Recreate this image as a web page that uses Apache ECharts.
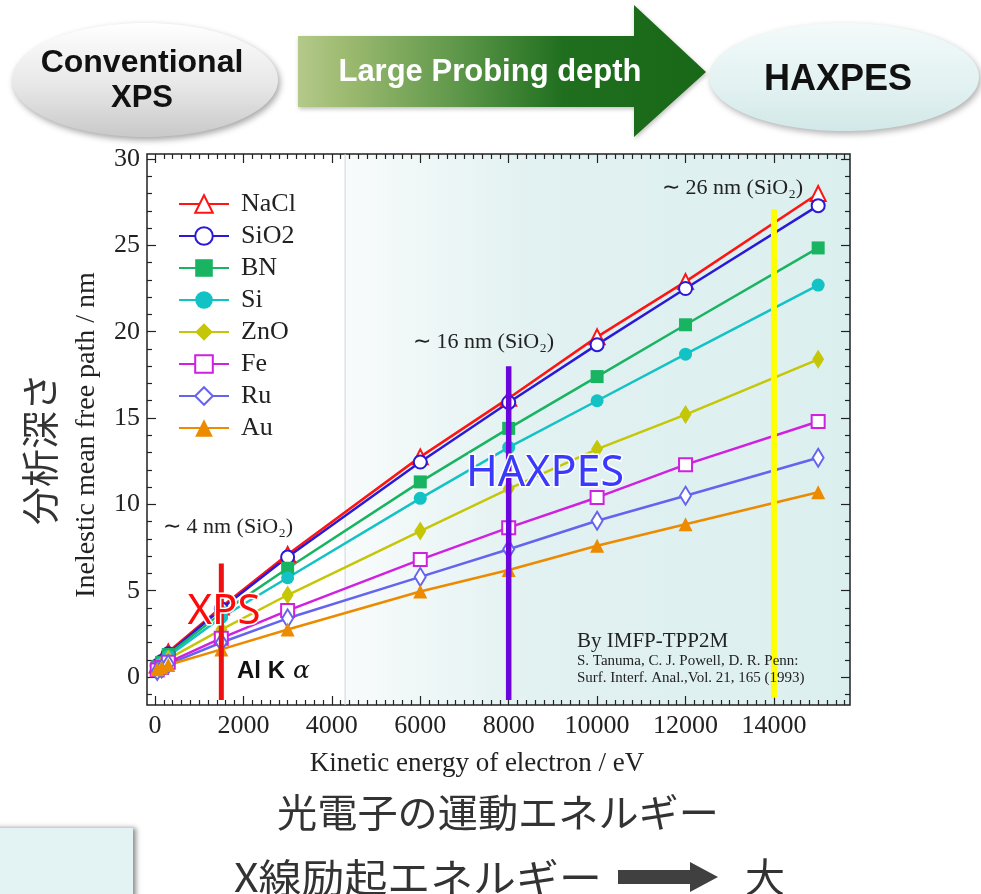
<!DOCTYPE html>
<html>
<head>
<meta charset="utf-8">
<script src="https://cdn.jsdelivr.net/npm/echarts@6/dist/echarts.min.js"></script>
<style>
html,body{margin:0;padding:0;background:#fff;}
#chart{width:981px;height:894px;}
</style>
</head>
<body>
<div id="chart"></div>
<script>
// ---- data ----
const energies = [50, 150, 300, 1500, 3000, 6000, 8000, 10000, 12000, 15000];
const seriesNames = ['NaCl', 'SiO2', 'BN', 'Si', 'ZnO', 'Fe', 'Ru', 'Au'];
const NaCl = [0.7, 0.95, 1.45, 4.05, 7.1, 12.75, 16.15, 19.7, 22.9, 28.0];
const SiO2 = [0.65, 0.9, 1.35, 3.95, 6.95, 12.45, 15.9, 19.25, 22.5, 27.3];
const BN   = [0.6, 0.85, 1.3, 3.7, 6.3, 11.3, 14.4, 17.4, 20.4, 24.85];
const Si   = [0.55, 0.8, 1.2, 3.45, 5.75, 10.35, 13.3, 16.0, 18.7, 22.7];
const ZnO  = [0.5, 0.7, 1.05, 2.75, 4.75, 8.45, 10.9, 13.2, 15.2, 18.4];
const Fe   = [0.4, 0.55, 0.85, 2.25, 3.85, 6.8, 8.65, 10.4, 12.3, 14.8];
const Ru   = [0.35, 0.5, 0.75, 2.0, 3.4, 5.8, 7.4, 9.05, 10.5, 12.7];
const Au   = [0.45, 0.55, 0.7, 1.6, 2.75, 4.95, 6.2, 7.6, 8.85, 10.7];
const xTickLabels = [0, 2000, 4000, 6000, 8000, 10000, 12000, 14000];
const yTickLabels = [0, 5, 10, 15, 20, 25, 30];
// marker bars: [energy, bottom, top]
const xpsBar = [1500, -1.33, 6.58];
const haxpesBar = [8000, -1.33, 18.0];
const highBar = [14000, -1.2, 27.1];
const shadeEdge = 4300;

const X_MIN = -181, X_MAX = 15720, Y_MIN = -1.62, Y_MAX = 30.29;

const values = {NaCl, SiO2, BN, Si, ZnO, Fe, Ru, Au};
const styles = {
  NaCl: {color: '#ff1414', symbol: 'emptyTriangle', size: 15},
  SiO2: {color: '#2a1ad8', symbol: 'emptyCircle', size: 13},
  BN:   {color: '#18b462', symbol: 'rect', size: 13},
  Si:   {color: '#12c2c4', symbol: 'circle', size: 13},
  ZnO:  {color: '#c6c608', symbol: 'diamond', size: [12, 19]},
  Fe:   {color: '#d020e0', symbol: 'emptyRect', size: 13},
  Ru:   {color: '#6464ee', symbol: 'emptyDiamond', size: [11, 18]},
  Au:   {color: '#ec8a00', symbol: 'triangle', size: 14}
};

const serif = 'Liberation Serif';
const sans = 'Liberation Sans';

const minorX = []; for (let v = 0; v <= 15600; v += 200) if (v % 2000) minorX.push(v);
const minorY = []; for (let v = -1; v <= 30; v += 1) if (v % 5) minorY.push(v);

function mkX(pos, ticks, len, labels) {
  return {
    type: 'value', min: X_MIN, max: X_MAX, position: pos,
    axisLine: {show: false, onZero: false}, splitLine: {show: false},
    axisTick: {show: true, inside: true, length: len, customValues: ticks, lineStyle: {color: '#222', width: 1.2}},
    axisLabel: labels ? {show: true, customValues: xTickLabels, formatter: v => String(v), margin: 8, fontFamily: serif, fontSize: 26, color: '#222'} : {show: false}
  };
}
function mkY(pos, ticks, len, labels) {
  return {
    type: 'value', min: Y_MIN, max: Y_MAX, position: pos,
    axisLine: {show: false, onZero: false}, splitLine: {show: false},
    axisTick: {show: true, inside: true, length: len, customValues: ticks, lineStyle: {color: '#222', width: 1.2}},
    axisLabel: labels ? {show: true, customValues: yTickLabels, formatter: v => String(v), margin: 7, fontFamily: serif, fontSize: 26, color: '#222'} : {show: false}
  };
}

const series = seriesNames.map(n => ({
  name: n, type: 'line', xAxisIndex: 0, yAxisIndex: 0,
  data: energies.map((e, i) => [e, values[n][i]]),
  symbol: styles[n].symbol, symbolSize: styles[n].size,
  lineStyle: {color: styles[n].color, width: 2.5},
  itemStyle: {color: styles[n].color, borderWidth: 1.5},
  z: 3
}));

function barSeries(b, color, w) {
  return {
    type: 'line', xAxisIndex: 0, yAxisIndex: 0, symbol: 'none', silent: true,
    data: [[b[0], b[1]], [b[0], b[2]]],
    lineStyle: {color: color, width: w}, z: 5
  };
}
series.push({
  type: 'line', xAxisIndex: 0, yAxisIndex: 0, symbol: 'none', silent: true,
  data: [[shadeEdge, Y_MIN], [shadeEdge, Y_MAX]],
  lineStyle: {color: '#cfd6d6', width: 1}, z: 1
});
series.push(barSeries(xpsBar, '#ee1111', 5));
series.push(barSeries(haxpesBar, '#6a06dc', 5.5));
series.push(barSeries(highBar, '#ffff00', 6));

const G = echarts.graphic;

const graphics = [
  // header: conventional XPS ellipse
  {type: 'ellipse', shape: {cx: 145, cy: 80, rx: 133, ry: 57},
   style: {fill: new G.LinearGradient(0, 0, 0, 1, [{offset: 0, color: '#ffffff'}, {offset: 0.55, color: '#e7e7e7'}, {offset: 1, color: '#c9c9c9'}]),
           shadowBlur: 6, shadowColor: 'rgba(0,0,0,0.35)', shadowOffsetX: 2, shadowOffsetY: 3}},
  {type: 'text', x: 142, y: 63, style: {text: 'Conventional', fontFamily: sans, fontWeight: 'bold', fontSize: 32, fill: '#111', align: 'center', verticalAlign: 'middle'}},
  {type: 'text', x: 142, y: 98, style: {text: 'XPS', fontFamily: sans, fontWeight: 'bold', fontSize: 31, fill: '#111', align: 'center', verticalAlign: 'middle'}},
  // arrow
  {type: 'polygon', shape: {points: [[298, 36], [634, 36], [634, 5], [706, 72], [634, 137], [634, 107], [298, 107]]},
   style: {fill: new G.LinearGradient(0, 0, 1, 0, [{offset: 0, color: '#b4c98a'}, {offset: 0.12, color: '#9cba70'}, {offset: 0.4, color: '#5c9648'}, {offset: 0.65, color: '#1f6f1f'}, {offset: 1, color: '#186818'}]),
           shadowBlur: 4, shadowColor: 'rgba(0,0,0,0.25)', shadowOffsetX: 1, shadowOffsetY: 2}},
  {type: 'text', x: 490, y: 72, style: {text: 'Large Probing depth', fontFamily: sans, fontWeight: 'bold', fontSize: 31, fill: '#ffffff', align: 'center', verticalAlign: 'middle'}},
  // HAXPES ellipse
  {type: 'ellipse', shape: {cx: 844, cy: 77, rx: 135, ry: 54},
   style: {fill: new G.LinearGradient(0, 0, 0, 1, [{offset: 0, color: '#f3fafa'}, {offset: 0.6, color: '#e2f1f1'}, {offset: 1, color: '#d2e8e8'}]),
           shadowBlur: 6, shadowColor: 'rgba(0,0,0,0.3)', shadowOffsetX: 2, shadowOffsetY: 3}},
  {type: 'text', x: 838, y: 80, style: {text: 'HAXPES', fontFamily: sans, fontWeight: 'bold', fontSize: 36, fill: '#111', align: 'center', verticalAlign: 'middle'}},
  // bottom-left box
  {type: 'rect', shape: {x: -10, y: 828, width: 143, height: 80},
   style: {fill: '#e3f2f2', shadowBlur: 5, shadowColor: 'rgba(0,0,0,0.45)', shadowOffsetX: 3, shadowOffsetY: 0}},
  // bottom texts
  {type: 'text', x: 498, y: 812, scaleX: 1.03, style: {text: '光電子の運動エネルギー', fontFamily: 'Noto Sans CJK JP', fontSize: 39, fill: '#333', align: 'center', verticalAlign: 'middle'}},
  {type: 'text', x: 234, y: 877, scaleX: 1.1, style: {text: 'X線励起エネルギー', fontFamily: 'Noto Sans CJK JP', fontSize: 39, fill: '#333', align: 'left', verticalAlign: 'middle'}},
  {type: 'polygon', shape: {points: [[618, 870], [690, 870], [690, 862], [718, 877], [690, 892], [690, 884], [618, 884]]}, style: {fill: '#404040'}},
  {type: 'text', x: 765, y: 877, style: {text: '大', fontFamily: 'Noto Sans CJK JP', fontSize: 40, fill: '#333', align: 'center', verticalAlign: 'middle'}},
  // y titles
  {type: 'text', x: 40, y: 449, rotation: Math.PI / 2, style: {text: '分析深さ', fontFamily: 'Noto Sans CJK JP', fontSize: 38, fill: '#333', align: 'center', verticalAlign: 'middle'}},
  {type: 'text', x: 87, y: 435, rotation: Math.PI / 2, style: {text: 'Inelestic mean free path / nm', fontFamily: serif, fontSize: 28, fill: '#222', align: 'center', verticalAlign: 'middle'}},
  {type: 'text', x: 477, y: 764, style: {text: 'Kinetic energy of electron / eV', fontFamily: serif, fontSize: 27, fill: '#222', align: 'center', verticalAlign: 'middle'}},
  // annotations
  {type: 'text', x: 163, y: 527, z: 20, style: {text: '∼ 4 nm (SiO₂)', fontFamily: serif, fontSize: 22, fill: '#222', align: 'left', verticalAlign: 'middle'}},
  {type: 'text', x: 413, y: 342, z: 20, style: {text: '∼ 16 nm (SiO₂)', fontFamily: serif, fontSize: 22, fill: '#222', align: 'left', verticalAlign: 'middle'}},
  {type: 'text', x: 662, y: 188, z: 20, style: {text: '∼ 26 nm (SiO₂)', fontFamily: serif, fontSize: 22, fill: '#222', align: 'left', verticalAlign: 'middle'}},
  {type: 'text', x: 224, y: 612, z: 20, style: {text: 'XPS', fontFamily: 'Noto Sans', fontSize: 42, fill: '#ff0a0a', stroke: '#ffffff', lineWidth: 3, align: 'center', verticalAlign: 'middle', shadowColor: 'rgba(255,255,255,0.9)', shadowBlur: 6}},
  {type: 'text', x: 545, y: 474, z: 20, style: {text: 'HAXPES', fontFamily: 'Noto Sans', fontSize: 43, fill: '#3a3aff', stroke: '#ffffff', lineWidth: 3, align: 'center', verticalAlign: 'middle', shadowColor: 'rgba(255,255,255,0.9)', shadowBlur: 6}},
  {type: 'text', x: 237, y: 671, z: 20, style: {text: '{b|Al K}{g| α}', align: 'left', verticalAlign: 'middle',
     rich: {b: {fontFamily: sans, fontWeight: 'bold', fontSize: 24, fill: '#111'}, g: {fontFamily: 'DejaVu Serif', fontStyle: 'italic', fontSize: 25, fill: '#111'}}}},
  {type: 'text', x: 577, y: 641, z: 20, style: {text: 'By IMFP-TPP2M', fontFamily: serif, fontSize: 21, fill: '#222', align: 'left', verticalAlign: 'middle'}},
  {type: 'text', x: 577, y: 661, z: 20, style: {text: 'S. Tanuma, C. J. Powell, D. R. Penn:', fontFamily: serif, fontSize: 15, fill: '#222', align: 'left', verticalAlign: 'middle'}},
  {type: 'text', x: 577, y: 678, z: 20, style: {text: 'Surf. Interf. Anal.,Vol. 21, 165 (1993)', fontFamily: serif, fontSize: 15, fill: '#222', align: 'left', verticalAlign: 'middle'}}
];

const majorX = xTickLabels.slice();
const majorY = yTickLabels.slice();

const option = {
  animation: false,
  backgroundColor: '#ffffff',
  grid: {
    left: 147, top: 154, width: 703, height: 551, show: true,
    borderColor: '#222', borderWidth: 1.5,
    backgroundColor: new G.LinearGradient(0, 0, 1, 0, [
      {offset: 0, color: '#ffffff'}, {offset: 0.281, color: '#ffffff'},
      {offset: 0.284, color: '#f8fbfb'}, {offset: 0.55, color: '#e2f1f1'}, {offset: 1, color: '#dcefef'}])
  },
  xAxis: [mkX('bottom', majorX, 9, true), mkX('bottom', minorX, 5, false), mkX('top', majorX, 9, false), mkX('top', minorX, 5, false)],
  yAxis: [mkY('left', majorY, 9, true), mkY('left', minorY, 5, false), mkY('right', majorY, 9, false), mkY('right', minorY, 5, false)],
  legend: {
    orient: 'vertical', left: 173, top: 186, itemWidth: 50, itemHeight: 22, itemGap: 6,
    data: seriesNames, selectedMode: false,
    textStyle: {fontFamily: serif, fontSize: 26, color: '#222', padding: [0, 0, 0, 7]}
  },
  series: series,
  graphic: graphics
};

const chart = echarts.init(document.getElementById('chart'), null, {renderer: 'canvas'});
chart.setOption(option);
</script>
</body>
</html>
